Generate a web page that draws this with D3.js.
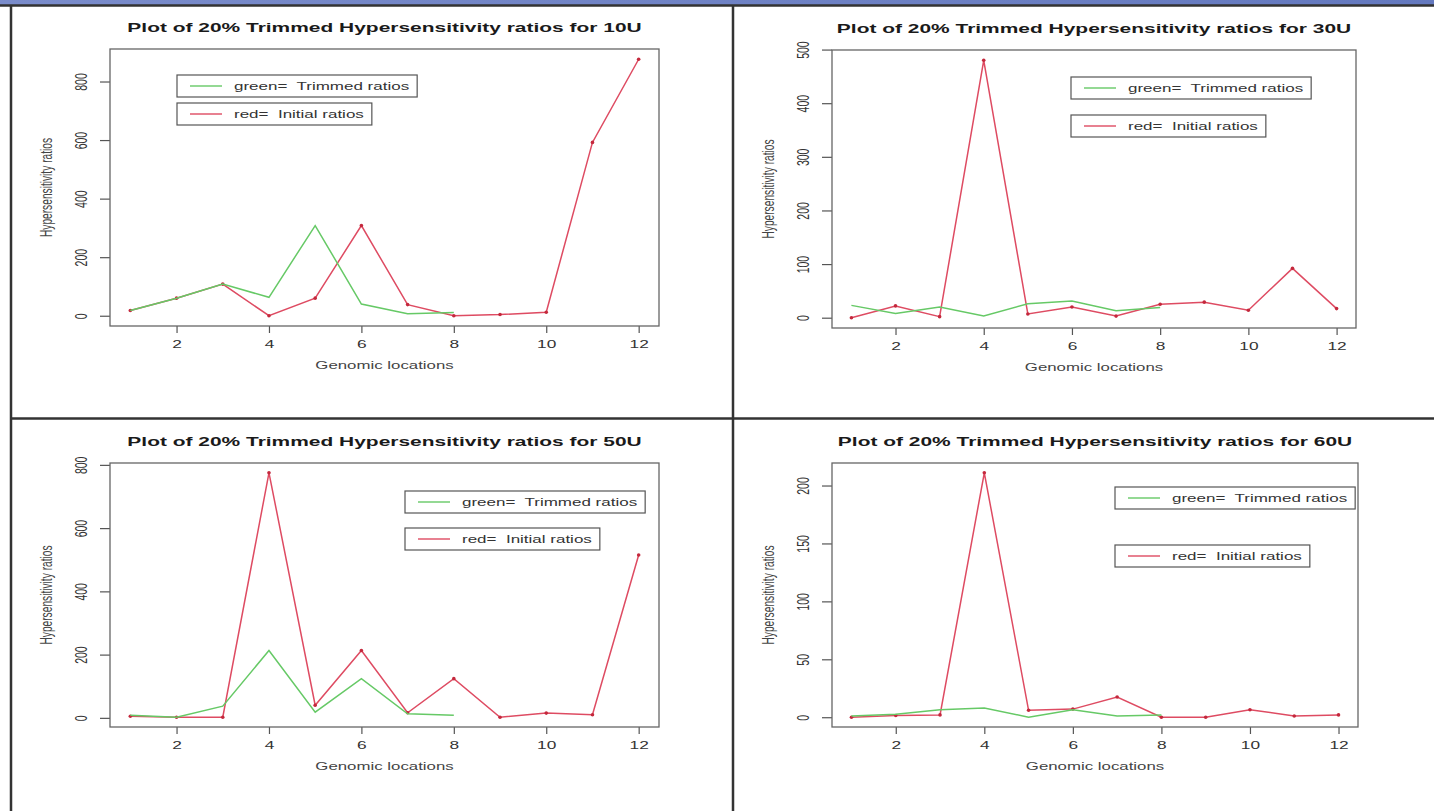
<!DOCTYPE html>
<meta charset="utf-8">
<style>
    body { margin: 0; background: #fff; }
    svg { display: block; font-family: "Liberation Sans", Arial, sans-serif; }
    text { white-space: pre; }
    .axis path { display: none; }
    .axis line { stroke: #555; stroke-width: 1.2; }
    .axis text { fill: #333; font-size: 10.5px; }
    .frame { stroke: #333; stroke-width: 2.5; fill: none; }
</style>
<body>
<div id="plotarea"></div>

<script src="https://cdnjs.cloudflare.com/ajax/libs/d3/7.8.5/d3.min.js"></script>
<script>

    // genomic locations on the x axis
    var locations = [1, 2, 3, 4, 5, 6, 7, 8, 9, 10, 11, 12];
    var xTicks = [2, 4, 6, 8, 10, 12];

    // red = initial ratios (12 locations), green = trimmed ratios (8 locations)
    var initial10 = [18, 60, 108, 0, 60, 308, 38, 0, 4, 12, 592, 876];
    var trimmed10 = [18, 60, 108, 63, 308, 40, 7, 11];

    var initial30 = [0, 22, 2, 480, 7, 20, 3, 25, 29, 14, 92, 17];
    var trimmed30 = [23, 8, 20, 3, 26, 31, 13, 19];

    var initial50 = [5, 2, 2, 775, 40, 213, 16, 124, 2, 15, 10, 515];
    var trimmed50 = [8, 2, 37, 213, 18, 124, 13, 8];

    var initial60 = [0, 1.5, 2, 211, 6, 7, 17.5, 0, 0, 6.5, 1, 2];
    var trimmed60 = [1, 2.5, 6.5, 8, 0, 6.5, 1, 2];

    var yTicks10 = [0, 200, 400, 600, 800];
    var yTicks30 = [0, 100, 200, 300, 400, 500];
    var yTicks50 = [0, 200, 400, 600, 800];
    var yTicks60 = [0, 50, 100, 150, 200];

    var units = ["10U", "30U", "50U", "60U"];

    var SX = 1.65;   // the picture is stretched sideways
    var redColor = "#de4b62", greenColor = "#66c966";

    var panels = [
        {unit: units[0], initial: initial10, trimmed: trimmed10, yTicks: yTicks10,
         box: {x0: 110, x1: 659, y0: 49, y1: 326},
         legend: [{x: 177, y: 75}, {x: 177, y: 103}]},
        {unit: units[1], initial: initial30, trimmed: trimmed30, yTicks: yTicks30,
         box: {x0: 832, x1: 1356, y0: 50, y1: 328},
         legend: [{x: 1071, y: 77}, {x: 1071, y: 115}]},
        {unit: units[2], initial: initial50, trimmed: trimmed50, yTicks: yTicks50,
         box: {x0: 110, x1: 659, y0: 463, y1: 727},
         legend: [{x: 405, y: 491}, {x: 405, y: 528}]},
        {unit: units[3], initial: initial60, trimmed: trimmed60, yTicks: yTicks60,
         box: {x0: 832, x1: 1358, y0: 463, y1: 727},
         legend: [{x: 1115, y: 487}, {x: 1115, y: 545}]}
    ];

    var svg = d3.select("#plotarea").append("svg")
            .attr("width", 1434)
            .attr("height", 811);

    svg.append("rect").attr("width", 1434).attr("height", 811).attr("fill", "#fff");

    // blue strip at the top of the slide
    var grad = svg.append("defs").append("linearGradient")
            .attr("id", "band").attr("x1", 0).attr("x2", 1).attr("y1", 0).attr("y2", 0);
    grad.append("stop").attr("offset", "0%").attr("stop-color", "#7a8ccb");
    grad.append("stop").attr("offset", "100%").attr("stop-color", "#6479bf");
    svg.append("rect").attr("x", 0).attr("y", 0).attr("width", 1434).attr("height", 5)
            .attr("fill", "url(#band)");

    // table frame
    svg.append("line").attr("class", "frame").attr("x1", 0).attr("x2", 1434).attr("y1", 5.5).attr("y2", 5.5);
    svg.append("line").attr("class", "frame").attr("x1", 11).attr("x2", 11).attr("y1", 5).attr("y2", 811);
    svg.append("line").attr("class", "frame").attr("x1", 733).attr("x2", 733).attr("y1", 5).attr("y2", 811);
    svg.append("line").attr("class", "frame").attr("x1", 11).attr("x2", 1434).attr("y1", 418.5).attr("y2", 418.5);

    function stretchText(g, x, y, rot) {
        return g.append("text")
                .attr("transform", "translate(" + x + "," + y + ") scale(" + SX + ",1)" + (rot ? " rotate(-90)" : ""));
    }

    panels.forEach(function(p) {
        var b = p.box;
        var g = svg.append("g");

        var x = d3.scaleLinear()
                .domain([1 - 0.44, 12 + 0.44])
                .range([b.x0, b.x1]);

        var all = p.initial.concat(p.trimmed);
        var ext = d3.extent(all), pad = (ext[1] - ext[0]) * 0.04;
        var y = d3.scaleLinear()
                .domain([ext[0] - pad, ext[1] + pad])
                .range([b.y1, b.y0]);

        // x axis
        var xa = g.append("g")
                .attr("class", "axis")
                .attr("transform", "translate(0," + b.y1 + ")")
                .call(d3.axisBottom(x).tickValues(xTicks).tickSize(7).tickFormat(d3.format("d")));
        xa.selectAll("text")
                .attr("y", null).attr("dy", "0.35em")
                .attr("transform", "translate(0,18) scale(" + SX + ",1)");

        // y axis
        var ya = g.append("g")
                .attr("class", "axis")
                .attr("transform", "translate(" + b.x0 + ",0)")
                .call(d3.axisLeft(y).tickValues(p.yTicks).tickSize(10).tickFormat(d3.format("d")));
        ya.selectAll("text")
                .attr("x", null).attr("dy", "0.35em")
                .attr("text-anchor", "middle")
                .attr("transform", "translate(-29,0) scale(" + SX + ",1) rotate(-90)");

        // plot box
        g.append("rect")
                .attr("x", b.x0).attr("y", b.y0)
                .attr("width", b.x1 - b.x0).attr("height", b.y1 - b.y0)
                .attr("fill", "none").attr("stroke", "#666").attr("stroke-width", 1.3);

        // titles
        stretchText(g, (b.x0 + b.x1) / 2, b.y0 - 21)
                .attr("dy", "0.35em").attr("text-anchor", "middle")
                .style("font-weight", "bold").style("font-size", "12.7px").style("fill", "#1a1a1a")
                .text("Plot of 20% Trimmed Hypersensitivity ratios for " + p.unit);

        stretchText(g, (b.x0 + b.x1) / 2, b.y1 + 39)
                .attr("dy", "0.35em").attr("text-anchor", "middle")
                .style("font-size", "10.2px").style("fill", "#444")
                .text("Genomic locations");

        stretchText(g, b.x0 - 64, (b.y0 + b.y1) / 2, true)
                .attr("dy", "0.35em").attr("text-anchor", "middle")
                .style("font-size", "10.2px").style("fill", "#444")
                .text("Hypersensitivity ratios");

        var line = d3.line()
                .x(function(d, i) { return x(locations[i]); })
                .y(function(d) { return y(d); });

        g.append("path")
                .attr("d", line(p.initial))
                .attr("fill", "none").attr("stroke", redColor).attr("stroke-width", 1.5);

        g.selectAll(".pt")
                .data(p.initial)
                .enter().append("circle")
                .attr("class", "pt")
                .attr("cx", function(d, i) { return x(locations[i]); })
                .attr("cy", function(d) { return y(d); })
                .attr("r", 1.8)
                .attr("fill", "#c4283c");

        g.append("path")
                .attr("d", line(p.trimmed))
                .attr("fill", "none").attr("stroke", greenColor).attr("stroke-width", 1.5);

        // legends, box sized to its text
        var entries = [{label: "green=  Trimmed ratios", color: greenColor},
                       {label: "red=  Initial ratios", color: redColor}];
        entries.forEach(function(e, i) {
            var L = p.legend[i];
            var box = g.append("rect")
                    .attr("x", L.x).attr("y", L.y).attr("height", 22)
                    .attr("fill", "#fff").attr("stroke", "#555").attr("stroke-width", 1.2);
            g.append("line")
                    .attr("x1", L.x + 13).attr("x2", L.x + 45)
                    .attr("y1", L.y + 11).attr("y2", L.y + 11)
                    .attr("stroke", e.color).attr("stroke-width", 1.4);
            var t = stretchText(g, L.x + 57, L.y + 11)
                    .attr("dy", "0.35em")
                    .style("font-size", "10.3px").style("fill", "#333")
                    .text(e.label);
            box.attr("width", 57 + t.node().getComputedTextLength() * SX + 8);
        });
    });

</script>
</body>
